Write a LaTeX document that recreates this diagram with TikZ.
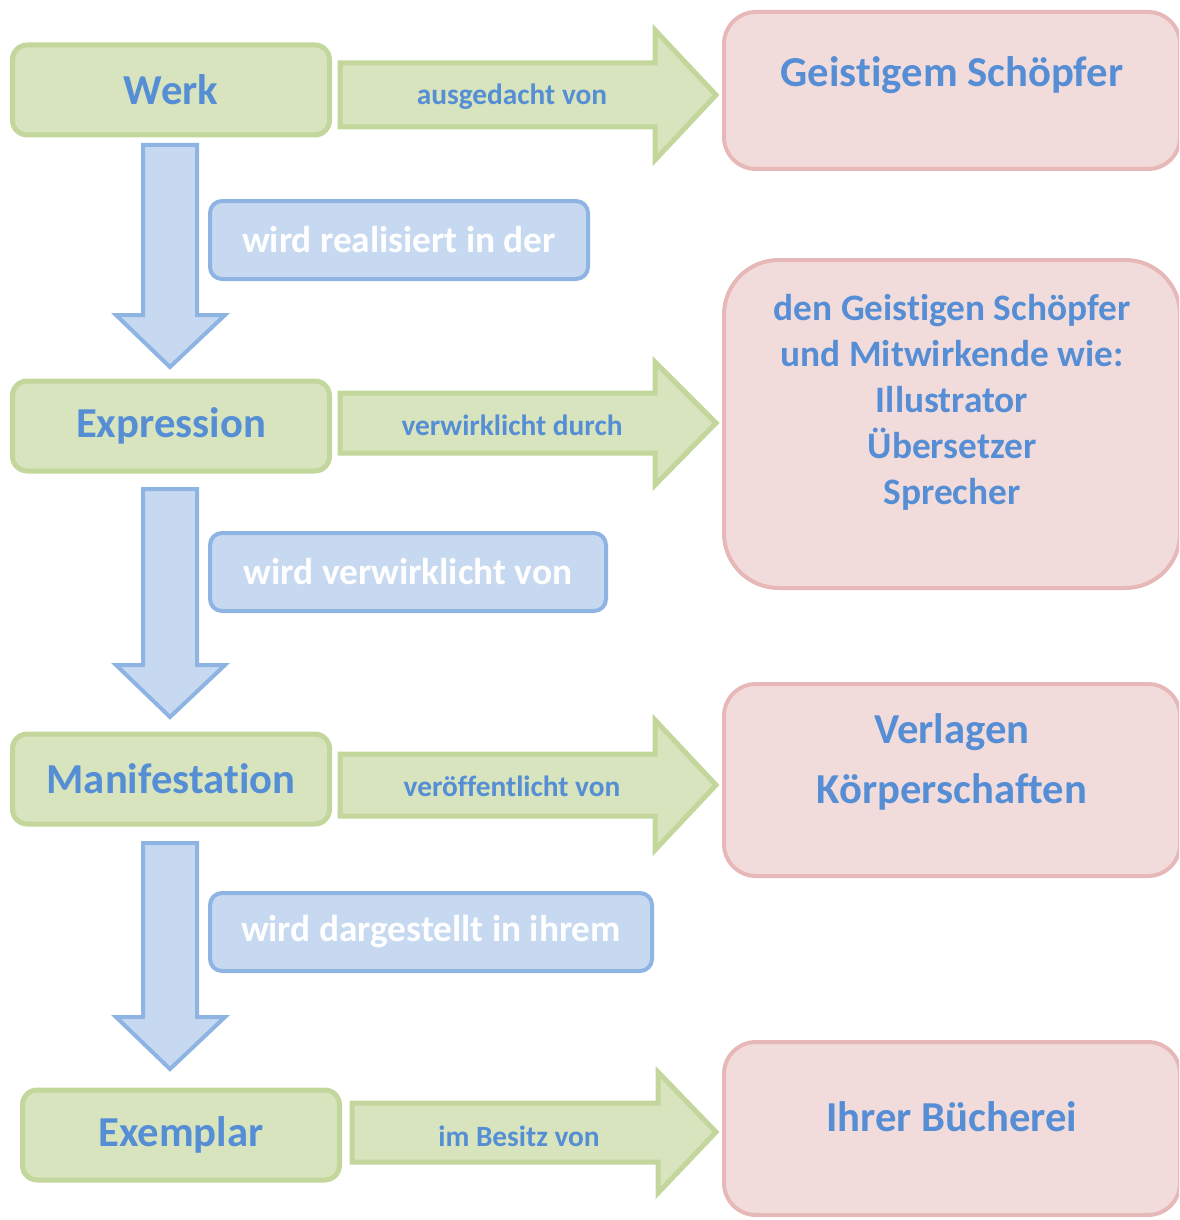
\documentclass[tikz,border=0pt]{standalone}
\usepackage{fontspec}
\setmainfont{Carlito}[Ligatures=NoCommon]
\usetikzlibrary{positioning}
\definecolor{greenfill}{HTML}{D7E4BD}
\definecolor{greenline}{HTML}{C3D69B}
\definecolor{bluefill}{HTML}{C6D9F1}
\definecolor{blueline}{HTML}{8EB4E3}
\definecolor{pinkfill}{HTML}{F2DCDB}
\definecolor{pinkline}{HTML}{E6B9B8}
\definecolor{textblue}{HTML}{558ED5}
\begin{document}
\begin{tikzpicture}[x=0.75pt,y=-0.75pt,
  entity/.style={draw=greenline, fill=greenfill, line width=3.75pt, rounded corners=11pt,
    minimum width=237.75pt, minimum height=67.5pt, text=textblue,
    font=\fontsize{32}{38}\selectfont\bfseries},
  relation/.style={draw=blueline, fill=bluefill, line width=3pt, rounded corners=9pt,
    minimum height=58.5pt, minimum width=#1,
    text=white, font=\fontsize{28}{34}\selectfont\bfseries},
  agent/.style={draw=pinkline, fill=pinkfill, line width=3pt, minimum width=342pt},
  agenttext/.style={text=textblue, align=center, font=\fontsize{32}{40}\selectfont\bfseries},
  flowright/.style={draw=greenline, fill=greenfill, line width=3.75pt},
  flowdown/.style={draw=blueline, fill=bluefill, line width=3pt},
  flowtext/.style={text=textblue, font=\fontsize{22}{26}\selectfont\bfseries}]
\useasboundingbox (0,0) rectangle (1179,1220);
\clip (0,0) rectangle (1179,1220);

% FRBR entities
\node[entity] (werk) at (171,90) {Werk};
\node[entity] (expression) at (171,426) {Expression};
\node[entity] (manifestation) at (171,779) {Manifestation};
\node[entity] (exemplar) at (181,1135) {Exemplar};

% persons and bodies
\node[agent, minimum height=117.75pt, rounded corners=24pt] (schoepfer) at (952,90.5) {};
\node[agent, minimum height=246pt, rounded corners=41pt] (mitwirkende) at (952,424) {};
\node[agent, minimum height=144pt, rounded corners=24pt] (verlage) at (952,780) {};
\node[agent, minimum height=129.75pt, rounded corners=24pt] (buecherei) at (952,1128.5) {};
\node[agenttext] (schoepfertxt) at (952,75) {Geistigem Schöpfer};
\node[agenttext, font=\fontsize{28}{34.5}\selectfont\bfseries] (mitwirkendetxt) at (952,402)
  {den Geistigen Schöpfer\\und Mitwirkende wie:\\Illustrator\\Übersetzer\\Sprecher};
\node[agenttext, font=\fontsize{32}{45}\selectfont\bfseries] (verlagetxt) at (952,762)
  {Verlagen\\Körperschaften};
\node[agenttext] (buechereitxt) at (952,1117) {Ihrer Bücherei};

% relations to the right
\draw[flowright] (340,63) -- (655,63) -- (655,30) -- (716,95) -- (655,160) -- (655,127) -- (340,127) -- cycle;
\draw[flowright] (340,393) -- (655,393) -- (655,362) -- (716,423) -- (655,485) -- (655,453) -- (340,453) -- cycle;
\draw[flowright] (340,754) -- (655,754) -- (655,720) -- (716,785) -- (655,850) -- (655,816) -- (340,816) -- cycle;
\draw[flowright] (352,1103) -- (658,1103) -- (658,1072) -- (716,1132) -- (658,1193) -- (658,1162) -- (352,1162) -- cycle;
\node[flowtext] (ausgedacht) at (512,97) {ausgedacht von};
\node[flowtext] (verwirklicht) at (512,425) {verwirklicht durch};
\node[flowtext] (veroeffentlicht) at (512,786) {veröffentlicht von};
\node[flowtext] (besitz) at (519,1136) {im Besitz von};

% relations downwards
\draw[flowdown] (143,145) -- (197,145) -- (197,315) -- (225,315) -- (170,367) -- (116,315) -- (143,315) -- cycle;
\draw[flowdown] (143,489) -- (197,489) -- (197,665) -- (225,665) -- (170,717) -- (116,665) -- (143,665) -- cycle;
\draw[flowdown] (143,843) -- (197,843) -- (197,1017) -- (225,1017) -- (170,1069) -- (116,1017) -- (143,1017) -- cycle;
\node[relation=283.5pt] (realisiert) at (399,240) {wird realisiert in der};
\node[relation=297pt] (verwirklichtvon) at (408,572) {wird verwirklicht von};
\node[relation=331.5pt] (dargestellt) at (431,932) {wird dargestellt in ihrem};
\end{tikzpicture}
\end{document}
